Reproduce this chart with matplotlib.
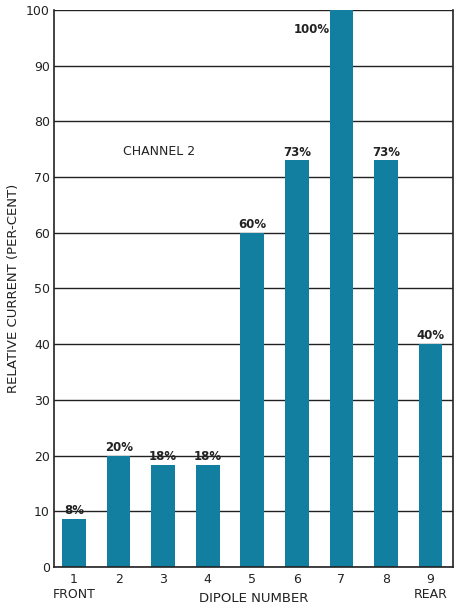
import matplotlib
matplotlib.use("Agg")
import matplotlib.pyplot as plt
import numpy as np

dipoles = [1, 2, 3, 4, 5, 6, 7, 8, 9]
current = [8.6, 20, 18.3, 18.3, 60, 73, 100, 73, 40]
labels = ["8%", "20%", "18%", "18%", "60%", "73%", "100%", "73%", "40%"]
tick_labels = ["1\nFRONT", "2", "3", "4", "5", "6", "7", "8", "9\nREAR"]

bar_color = "#127ea0"

fig = plt.figure(figsize=(4.62, 6.12), dpi=100)
ax = fig.add_axes([0.117, 0.0735, 0.863, 0.9105])

ax.set_axisbelow(True)
ax.yaxis.grid(True, color="#222222", linewidth=1.0)
ax.bar(dipoles, current, width=0.53, color=bar_color, zorder=2)

for x, y, lab in zip(dipoles, current, labels):
    if y >= 100:
        ax.text(x - 0.27, 96.5, lab, ha="right", va="center", fontsize=8.5,
                fontweight="bold", color="#222222")
    else:
        ax.text(x, y + 0.3, lab, ha="center", va="bottom", fontsize=8.5,
                fontweight="bold", color="#222222")

ax.text(2.9, 74.5, "CHANNEL 2", ha="center", va="center", fontsize=9,
        color="#222222")

ax.set_xlim(0.55, 9.5)
ax.set_ylim(0, 100)
ax.set_yticks(np.arange(0, 101, 10))
ax.set_xticks(dipoles)
ax.set_xticklabels(tick_labels, fontsize=9, color="#222222")
ax.tick_params(axis="y", labelsize=9, length=0, pad=3, colors="#222222")
ax.tick_params(axis="x", length=0, pad=4, colors="#222222")

ax.spines["top"].set_visible(False)
for side in ["left", "bottom", "right"]:
    ax.spines[side].set_color("#222222")
    ax.spines[side].set_linewidth(1.2)

ax.set_ylabel("RELATIVE CURRENT (PER-CENT)", fontsize=9.5, color="#222222",
              labelpad=4)
ax.set_xlabel("DIPOLE NUMBER", fontsize=9.5, color="#222222", labelpad=-6)

fig.savefig("out.png", dpi=100)
